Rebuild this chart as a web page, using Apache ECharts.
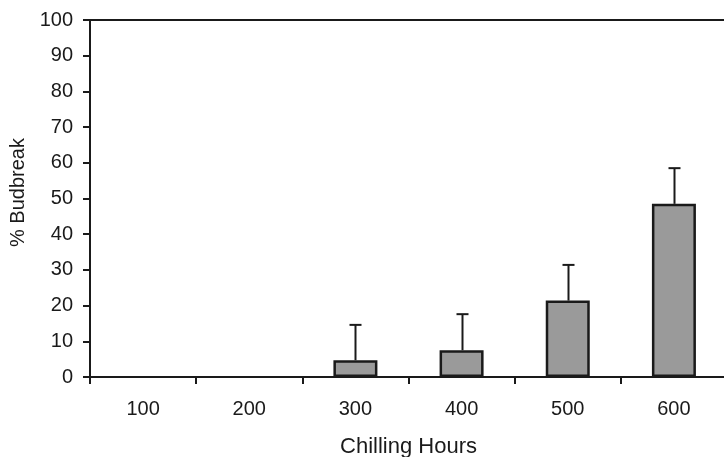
<!DOCTYPE html>
<html><head><meta charset="utf-8">
<script src="https://cdn.jsdelivr.net/npm/echarts@6/dist/echarts.min.js"></script>
<style>html,body{margin:0;padding:0;background:#fff}#c{width:724px;height:457px}</style>
</head><body><div id="c"></div>
<script>
const categories = ['100','200','300','400','500','600'];
const budbreak = [0, 0, 4.7, 7.5, 21.4, 48.5];
const errorTop = [0, 0, 14.6, 17.6, 31.4, 58.5];
const yTicks = [0,10,20,30,40,50,60,70,80,90,100];

const chart = echarts.init(document.getElementById('c'));
const font = 'Liberation Sans, Arial, sans-serif';
const ink = '#1a1a1a';
chart.setOption({
  animation: false,
  grid: {left: 90, top: 20, width: 637, height: 357, outerBoundsMode: 'none', containLabel: false},
  xAxis: [{
    type: 'category', data: categories, boundaryGap: true,
    name: 'Chilling Hours', nameLocation: 'middle', nameGap: 59,
    nameTextStyle: {fontFamily: font, fontSize: 22, color: ink},
    axisLine: {lineStyle: {color: ink, width: 2}},
    axisTick: {show: true, length: 7, inside: false, lineStyle: {color: ink, width: 2}},
    axisLabel: {fontFamily: font, fontSize: 20, color: ink, margin: 22}
  }, {
    type: 'category', data: categories, position: 'top',
    axisLine: {show: true, lineStyle: {color: ink, width: 2}},
    axisTick: {show: false}, axisLabel: {show: false}
  }],
  yAxis: {
    type: 'value', min: yTicks[0], max: yTicks[yTicks.length-1], interval: 10,
    name: '% Budbreak', nameLocation: 'middle', nameGap: 62, nameRotate: 90,
    nameTextStyle: {fontFamily: font, fontSize: 20, color: ink, padding: [0, 0, 0, 12]},
    axisLine: {show: true, lineStyle: {color: ink, width: 2}},
    axisTick: {show: true, length: 7, lineStyle: {color: ink, width: 2}},
    axisLabel: {fontFamily: font, fontSize: 20, color: ink, margin: 17},
    splitLine: {show: false}
  },
  series: [{
    type: 'bar',
    data: budbreak.map(v => v > 0 ? v : {value: v, itemStyle: {borderWidth: 0}}),
    barWidth: 44,
    itemStyle: {color: '#9a9a9a', borderColor: ink, borderWidth: 2.5}
  }, {
    type: 'custom',
    data: categories.map((c, i) => [i, budbreak[i], errorTop[i]]),
    z: 1,
    renderItem: function (params, api) {
      const b = api.value(1), t = api.value(2);
      if (t <= b) return null;
      const p0 = api.coord([api.value(0), b]);
      const p1 = api.coord([api.value(0), t]);
      const x = Math.round(p0[0]) + 0.5;
      return {type: 'group', children: [
        {type: 'line', shape: {x1: x, y1: p0[1], x2: x, y2: p1[1]}, style: {stroke: ink, lineWidth: 2}},
        {type: 'line', shape: {x1: x - 6, y1: p1[1], x2: x + 6, y2: p1[1]}, style: {stroke: ink, lineWidth: 2}}
      ]};
    }
  }]
});
</script></body></html>
